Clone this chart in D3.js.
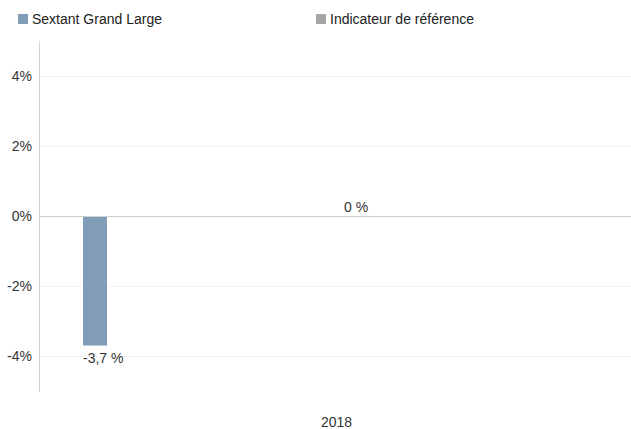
<!DOCTYPE html>
<html><head><meta charset="utf-8">
<script src="https://cdn.jsdelivr.net/npm/d3@7"></script>
<style>body{margin:0;background:#fff}svg{display:block;font-family:"Liberation Sans",Arial,sans-serif}</style>
</head><body><svg id="c" width="631" height="429"></svg>
<script>
const categories = ["2018"];
const seriesNames = ["Sextant Grand Large", "Indicateur de référence"];
const seriesValues = [-3.7, 0];
const valueLabels = ["-3,7 %", "0 %"];
const yTicks = [-4, -2, 0, 2, 4];
const colors = ["#819cb6", "#a6a6a6"];

const svg = d3.select("#c");
const plot = {left: 40, right: 631, top: 41, bottom: 391};
const y = d3.scaleLinear().domain([-5, 5]).range([plot.bottom, plot.top]);
const xCat = d3.scaleBand().domain(categories).range([plot.left, plot.right]);
const xSer = d3.scalePoint().domain(seriesNames).range([83, 344]);
const barW = 24;
const fs = 14;

// grid
svg.append("g").selectAll("line").data(yTicks.filter(t => t !== 0)).join("line")
  .attr("x1", plot.left).attr("x2", plot.right)
  .attr("y1", d => y(d) + 0.5).attr("y2", d => y(d) + 0.5)
  .attr("stroke", "#f2f2f2");

// y axis labels
svg.append("g").selectAll("text").data(yTicks).join("text")
  .attr("x", 32).attr("y", d => y(d) + 5)
  .attr("text-anchor", "end").attr("font-size", fs).attr("fill", "#333")
  .text(d => d + "%");

// bars
svg.append("g").selectAll("rect").data(seriesValues).join("rect")
  .attr("x", (d, i) => xSer(seriesNames[i]))
  .attr("y", d => y(Math.max(0, d)))
  .attr("width", barW)
  .attr("height", d => Math.abs(y(d) - y(0)))
  .attr("fill", (d, i) => colors[i]);

// zero line
svg.append("line").attr("x1", plot.left).attr("x2", plot.right)
  .attr("y1", y(0) + 0.5).attr("y2", y(0) + 0.5).attr("stroke", "#cfcfcf");

// y axis line
svg.append("line").attr("x1", plot.left - 0.5).attr("x2", plot.left - 0.5)
  .attr("y1", plot.top).attr("y2", plot.bottom + 1).attr("stroke", "#d4d4d4");

// value labels
svg.append("g").selectAll("text").data(seriesValues).join("text")
  .attr("x", (d, i) => xSer(seriesNames[i]))
  .attr("y", d => d < 0 ? y(d) + 17 : y(d) - 4)
  .attr("font-size", fs).attr("fill", "#333")
  .text((d, i) => valueLabels[i]);

// category label
svg.append("g").selectAll("text").data(categories).join("text")
  .attr("x", d => xCat(d) + xCat.bandwidth() / 2 + 1).attr("y", 427)
  .attr("text-anchor", "middle").attr("font-size", fs).attr("fill", "#333")
  .text(d => d);

// legend
const legX = d3.scalePoint().domain(seriesNames).range([18, 316]);
const leg = svg.append("g").selectAll("g").data(seriesNames).join("g")
  .attr("transform", d => `translate(${legX(d)},0)`);
leg.append("rect").attr("x", 0).attr("y", 14).attr("width", 10).attr("height", 10)
  .attr("fill", (d, i) => colors[i]);
leg.append("text").attr("x", 14).attr("y", 24).attr("font-size", fs).attr("fill", "#222")
  .text(d => d);
</script></body></html>
